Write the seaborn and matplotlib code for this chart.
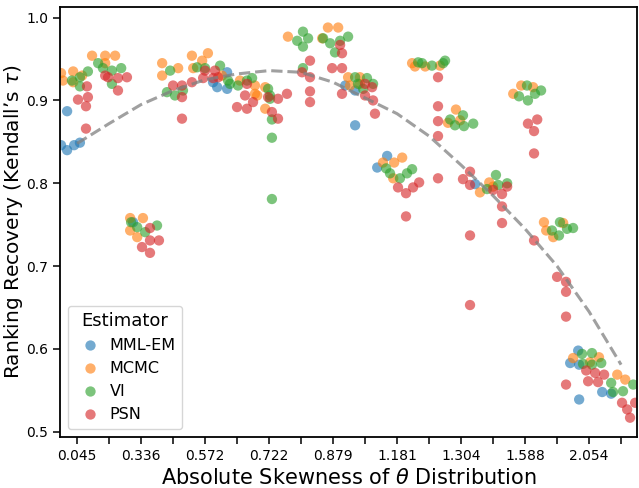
import numpy as np
import pandas as pd
import matplotlib
matplotlib.use("Agg")
import matplotlib.pyplot as plt
import seaborn as sns

# skewness labels shown on every other tick (position index = rank bin)
skew_labels = ["0.045", "0.336", "0.572", "0.722", "0.879",
               "1.181", "1.304", "1.588", "2.054"]
n_bins = 18

# points per estimator: x = skewness rank position, y = Kendall's tau
mml_x = [-0.31, -0.5, -0.31, -0.09, 0.09, 1.75, 4.69, 4.38, 4.69, 4.25,
         8.38, 8.69, 8.69, 9.69, 9.38, 12.44,
         15.66, 15.41, 15.69, 15.69, 16.41, 16.69]
mml_y = [0.887, 0.846, 0.840, 0.846, 0.849, 0.753, 0.934, 0.916, 0.914, 0.922,
         0.918, 0.912, 0.870, 0.833, 0.819, 0.799,
         0.598, 0.583, 0.581, 0.539, 0.548, 0.546]

mcmc_x = [-0.5, -0.44, -0.12, -0.12, 0.16, 0.47, 0.88, 1.19, 0.88,
          1.66, 2.06, 1.66, 1.88, 2.66, 2.66, 3.16,
          3.59, 3.91, 4.09, 3.63, 4.53, 5.09, 5.56, 5.88, 5.56, 5.88, 5.63,
          6.59, 7.66, 7.84, 8.16, 8.47, 8.84, 8.53, 8.84,
          9.56, 9.91, 10.16, 9.88, 10.47, 10.56, 10.88, 11.34,
          11.84, 11.59, 11.97, 12.59, 12.88, 13.0,
          13.88, 13.63, 14.25, 14.59, 14.66, 14.88, 15.19,
          15.5, 16.31, 16.88, 17.13, 16.03]
mcmc_y = [0.933, 0.924, 0.935, 0.922, 0.930, 0.954, 0.954, 0.954, 0.945,
          0.758, 0.758, 0.743, 0.735, 0.945, 0.930, 0.939,
          0.954, 0.948, 0.957, 0.939, 0.930, 0.924, 0.918, 0.916, 0.908, 0.890, 0.906,
          0.977, 0.975, 0.988, 0.988, 0.928, 0.928, 0.918, 0.920,
          0.825, 0.825, 0.831, 0.806, 0.945, 0.941, 0.941, 0.942,
          0.889, 0.873, 0.876, 0.789, 0.801, 0.796,
          0.918, 0.908, 0.916, 0.753, 0.743, 0.735, 0.752,
          0.589, 0.590, 0.569, 0.563, 0.584]

vi_x = [-0.16, 0.09, 0.09, 0.34, 0.66, 0.81, 1.09, 1.38, 1.09,
        1.69, 1.88, 2.13, 2.5, 2.91, 2.81, 3.06, 3.31,
        3.75, 4.0, 4.47, 4.72, 4.78, 5.03, 5.31, 5.47, 5.97, 6.03,
        6.03, 6.09, 6.09, 6.09,
        6.88, 7.06, 7.22, 7.06, 7.69, 7.91, 8.22, 8.47, 8.06, 7.06,
        8.69, 9.06, 8.78, 9.25, 8.94,
        9.66, 9.78, 10.09, 10.31, 10.47,
        10.66, 10.78, 11.09, 11.44, 11.5,
        11.66, 11.81, 12.06, 12.09, 12.38,
        12.81, 13.09, 13.16, 13.44,
        14.06, 13.81, 14.31, 14.09, 14.5,
        14.84, 15.09, 15.06, 15.31, 15.5,
        15.78, 16.09, 15.81, 16.09, 16.38, 16.69, 16.75, 17.06, 17.38]
vi_y = [0.924, 0.928, 0.917, 0.935, 0.945, 0.939, 0.936, 0.939, 0.920,
        0.753, 0.747, 0.741, 0.749, 0.936, 0.910, 0.906, 0.912,
        0.940, 0.939, 0.942, 0.924, 0.920, 0.918, 0.924, 0.927, 0.914, 0.906,
        0.902, 0.877, 0.855, 0.781,
        0.972, 0.983, 0.975, 0.965, 0.975, 0.969, 0.972, 0.977, 0.958, 0.939,
        0.928, 0.927, 0.920, 0.920, 0.914,
        0.818, 0.812, 0.806, 0.812, 0.817,
        0.946, 0.945, 0.942, 0.945, 0.948,
        0.877, 0.870, 0.882, 0.869, 0.872,
        0.793, 0.810, 0.798, 0.800,
        0.918, 0.905, 0.908, 0.900, 0.912,
        0.743, 0.753, 0.737, 0.745, 0.746,
        0.594, 0.595, 0.582, 0.581, 0.583, 0.559, 0.548, 0.549, 0.557]

psn_x = [0.31, 0.03, 0.34, 0.28, 0.28, 0.88, 0.97, 1.28, 1.56, 1.28,
         2.28, 2.28, 2.03, 2.28, 2.56, 3.0, 3.28, 3.28, 3.59, 3.28,
         4.0, 4.31, 3.94, 4.25, 4.41, 5.31, 5.0, 5.31, 5.25, 5.5, 5.97,
         6.28, 6.56, 6.09, 6.28,
         8.22, 8.28, 7.28, 7.03, 7.28, 7.28, 7.28, 7.97, 8.28, 8.28,
         9.0, 9.22, 9.0, 9.25, 9.31,
         10.03, 10.28, 10.5, 10.69, 10.28,
         11.28, 11.28, 11.28, 11.28, 11.28,
         12.28, 12.06, 12.28, 12.28, 12.28,
         13.0, 13.28, 13.44, 13.28, 13.28,
         14.09, 14.38, 14.28, 14.28,
         14.28, 15.0, 15.28, 15.28, 15.28, 15.28,
         15.91, 16.19, 16.47, 15.97, 16.28, 17.03, 17.19, 17.28, 17.44]
psn_y = [0.917, 0.901, 0.904, 0.893, 0.866, 0.930, 0.928, 0.927, 0.928, 0.912,
         0.746, 0.731, 0.723, 0.716, 0.731, 0.918, 0.904, 0.878, 0.922, 0.918,
         0.936, 0.936, 0.927, 0.927, 0.928, 0.920, 0.892, 0.890, 0.906, 0.898, 0.904,
         0.902, 0.908, 0.886, 0.878,
         0.967, 0.957, 0.948, 0.934, 0.928, 0.911, 0.898, 0.939, 0.939, 0.908,
         0.920, 0.916, 0.906, 0.900, 0.884,
         0.795, 0.788, 0.795, 0.801, 0.760,
         0.928, 0.893, 0.875, 0.857, 0.806,
         0.814, 0.805, 0.798, 0.737, 0.653,
         0.792, 0.787, 0.796, 0.772, 0.752,
         0.872, 0.877, 0.863, 0.836,
         0.731, 0.687, 0.681, 0.669, 0.639, 0.557,
         0.574, 0.571, 0.569, 0.561, 0.560, 0.535, 0.527, 0.517, 0.535]

# trend line read at each tick position
trend_y = [0.848, 0.872, 0.895, 0.912, 0.925, 0.932, 0.936, 0.934, 0.922,
           0.903, 0.884, 0.857, 0.822, 0.785, 0.745, 0.700, 0.645, 0.581]

frames = []
for name, xs, ys in [("MML-EM", mml_x, mml_y), ("MCMC", mcmc_x, mcmc_y),
                     ("VI", vi_x, vi_y), ("PSN", psn_x, psn_y)]:
    frames.append(pd.DataFrame({"pos": xs, "tau": ys, "Estimator": name}))
df = pd.concat(frames, ignore_index=True)

sns.set_style("ticks", {"axes.edgecolor": "black", "xtick.color": "black",
                        "ytick.color": "black", "text.color": "black",
                        "axes.labelcolor": "black"})
fig, ax = plt.subplots(figsize=(6.39, 4.88), dpi=100)
fig.subplots_adjust(left=0.094, right=0.997, top=0.986, bottom=0.105)

palette = dict(zip(["MML-EM", "MCMC", "VI", "PSN"], sns.color_palette("tab10", 4)))
sns.scatterplot(data=df, x="pos", y="tau", hue="Estimator", palette=palette,
                s=55, alpha=0.62, linewidth=0, ax=ax)

sns.lineplot(x=np.arange(n_bins), y=trend_y, color="gray", linestyle="--",
             linewidth=2.2, alpha=0.75, ax=ax, legend=False)

ax.set_xlim(-0.53, 17.5)
ax.set_ylim(0.494, 1.013)
ax.set_xticks(np.arange(n_bins))
ax.set_xticklabels([skew_labels[i // 2] if i % 2 == 0 else "" for i in range(n_bins)],
                   fontsize=10)
ax.set_yticks([0.5, 0.6, 0.7, 0.8, 0.9, 1.0])
ax.tick_params(axis="both", labelsize=10, length=5, width=1.1)
ax.set_xlabel(r"Absolute Skewness of $\theta$ Distribution", fontsize=15)
ax.set_ylabel(r"Ranking Recovery (Kendall’s $\tau$)", fontsize=14.5, labelpad=1)
for sp in ax.spines.values():
    sp.set_visible(True)
    sp.set_linewidth(1.3)
    sp.set_color("black")

sns.move_legend(ax, "lower left", title="Estimator", fontsize=11.5,
                title_fontsize=13, frameon=True, markerscale=1.0,
                handletextpad=0.2, borderpad=0.4)

fig.savefig("out.png", dpi=100)
